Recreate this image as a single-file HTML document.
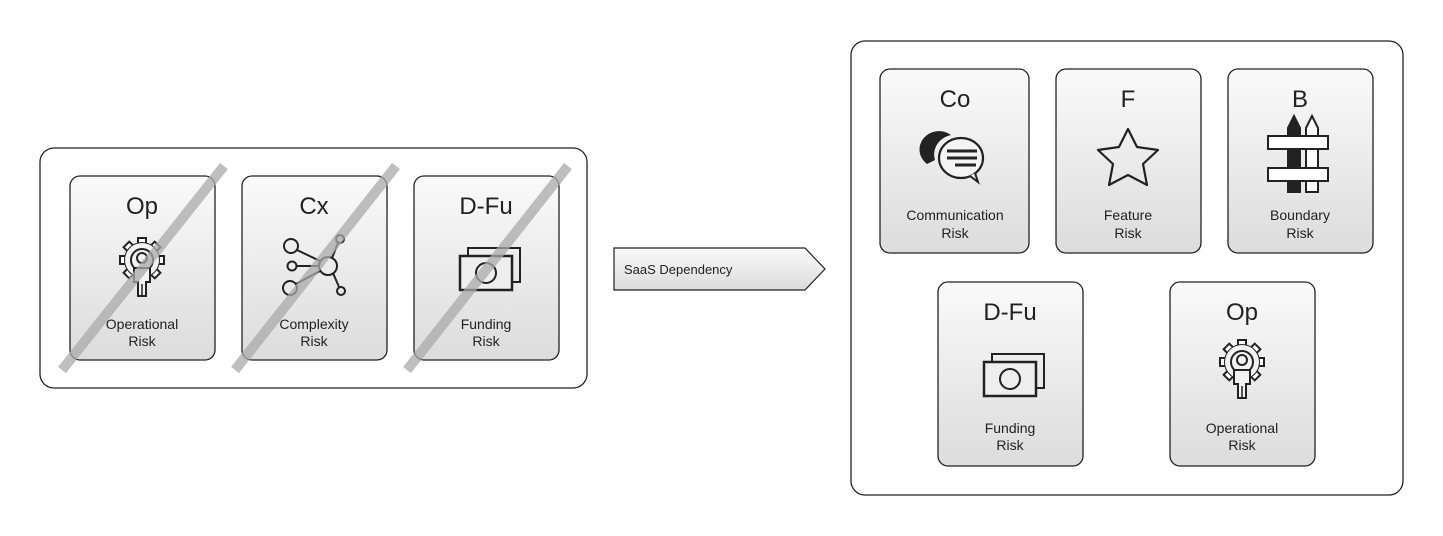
<!DOCTYPE html>
<html><head><meta charset="utf-8"><style>
html,body{margin:0;padding:0;background:#fff;width:1443px;height:536px;overflow:hidden}
text{font-family:"Liberation Sans",sans-serif;fill:#222}
</style></head><body>
<svg width="1443" height="536" viewBox="0 0 1443 536" xmlns="http://www.w3.org/2000/svg">
<defs>
<linearGradient id="g" x1="0" y1="0" x2="0" y2="1"><stop offset="0" stop-color="#fafafa"/><stop offset="1" stop-color="#dcdcdc"/></linearGradient>
<g id="gear">
 <g fill="#fff" stroke="#222" stroke-width="2">
  <rect x="-4" y="-26" width="8" height="8" transform="rotate(0 0 -4)"/>
  <rect x="-4" y="-26" width="8" height="8" transform="rotate(45 0 -4)"/>
  <rect x="-4" y="-26" width="8" height="8" transform="rotate(90 0 -4)"/>
  <rect x="-4" y="-26" width="8" height="8" transform="rotate(135 0 -4)"/>
  <rect x="-4" y="-26" width="8" height="8" transform="rotate(180 0 -4)"/>
  <rect x="-4" y="-26" width="8" height="8" transform="rotate(225 0 -4)"/>
  <rect x="-4" y="-26" width="8" height="8" transform="rotate(270 0 -4)"/>
  <rect x="-4" y="-26" width="8" height="8" transform="rotate(315 0 -4)"/>
 </g>
 <circle cx="0" cy="-4" r="17" fill="#f2f2f2" stroke="#222" stroke-width="2"/>
 <circle cx="0" cy="-4" r="17" fill="#f2f2f2" stroke="none"/>
 <circle cx="0" cy="-4" r="11" fill="none" stroke="#222" stroke-width="2"/>
 <circle cx="0" cy="-6" r="5" fill="none" stroke="#222" stroke-width="2"/>
 <path d="M-8,4 h16 v14 h-4 v14 h-8 v-14 h-4z" fill="#f2f2f2" stroke="#222" stroke-width="2"/>
 <line x1="0" y1="20" x2="0" y2="32" stroke="#222" stroke-width="1.5"/>
</g>
<g id="money">
 <rect x="-22" y="-20" width="52" height="34" fill="none" stroke="#222" stroke-width="2"/>
 <rect x="-30" y="-12" width="52" height="34" fill="#eee" stroke="#222" stroke-width="2.5"/>
 <circle cx="-4" cy="5" r="10" fill="none" stroke="#222" stroke-width="2"/>
</g>
</defs>
<rect x="40" y="148" width="547" height="240" rx="14" fill="#fff" stroke="#222" stroke-width="1.3"/>
<g stroke="#222" stroke-width="1.3" fill="url(#g)">
<rect x="70" y="176" width="145" height="184" rx="10"/>
<rect x="242" y="176" width="145" height="184" rx="10"/>
<rect x="414" y="176" width="145" height="184" rx="10"/>
</g>
<g font-size="24" text-anchor="middle">
<text x="142" y="214">Op</text><text x="314" y="214">Cx</text><text x="486" y="214">D-Fu</text></g>
<use href="#gear" x="142" y="264"/>
<g fill="none" stroke="#222" stroke-width="2">
<line x1="297" y1="250" x2="320" y2="261"/><line x1="297" y1="266" x2="319" y2="266"/><line x1="296" y1="284" x2="320" y2="271"/>
<line x1="338" y1="243" x2="332" y2="258"/><line x1="333" y1="273" x2="339" y2="287"/>
<circle cx="291" cy="246" r="7"/><circle cx="292" cy="266" r="4.5"/><circle cx="290" cy="288" r="7"/>
<circle cx="328" cy="266" r="9"/><circle cx="340" cy="239" r="4"/><circle cx="341" cy="291" r="4"/>
</g>
<use href="#money" x="490" y="268"/>
<g font-size="14" text-anchor="middle">
<text x="142" y="329">Operational</text><text x="142" y="346">Risk</text>
<text x="314" y="329">Complexity</text><text x="314" y="346">Risk</text>
<text x="486" y="329">Funding</text><text x="486" y="346">Risk</text></g>
<g stroke="#aaa" stroke-opacity="0.75" stroke-width="10">
<line x1="62" y1="370" x2="224" y2="166"/><line x1="235" y1="370" x2="396" y2="166"/><line x1="407" y1="370" x2="568" y2="166"/></g>
<path d="M614,248 H805 L825,269 L805,290 H614 Z" fill="url(#g)" stroke="#222" stroke-width="1.2"/>
<text x="624" y="274" font-size="13">SaaS Dependency</text>
<rect x="851" y="41" width="552" height="454" rx="14" fill="#fff" stroke="#222" stroke-width="1.3"/>
<g stroke="#222" stroke-width="1.3" fill="url(#g)">
<rect x="880" y="69" width="149" height="184" rx="10"/>
<rect x="1056" y="69" width="145" height="184" rx="10"/>
<rect x="1228" y="69" width="145" height="184" rx="10"/>
<rect x="938" y="282" width="145" height="184" rx="10"/>
<rect x="1170" y="282" width="145" height="184" rx="10"/>
</g>
<g font-size="24" text-anchor="middle">
<text x="955" y="107">Co</text><text x="1128" y="107">F</text><text x="1300" y="107">B</text>
<text x="1010" y="320">D-Fu</text><text x="1242" y="320">Op</text></g>
<path d="M927,164 a18,17 0 1 1 24,-29 a22,20 0 0 0 -16,25 z" fill="#222"/>
<ellipse cx="961" cy="158" rx="22" ry="20" fill="#f4f4f4" stroke="#222" stroke-width="2.2"/>
<path d="M970,176 l8,6 -3,-9" fill="#f4f4f4" stroke="#222" stroke-width="2"/>
<g stroke="#222" stroke-width="3"><line x1="947" y1="151" x2="977" y2="151"/><line x1="947" y1="158" x2="977" y2="158"/><line x1="955" y1="165" x2="976" y2="165"/></g>
<path d="M1128,129 L1137,147 L1158,150 L1143,164 L1147,185 L1128,175 L1109,185 L1113,164 L1098,150 L1119,147 Z" fill="none" stroke="#222" stroke-width="2.2" stroke-linejoin="round"/>
<g stroke="#222" stroke-width="2" fill="#fff">
<path d="M1288,128 l6,-12 6,12 v64 h-12z" fill="#222"/>
<path d="M1306,128 l6,-12 6,12 v64 h-12z"/>
<rect x="1268" y="136" width="60" height="13"/><rect x="1268" y="168" width="60" height="13"/>
</g>
<use href="#money" x="1014" y="374"/>
<use href="#gear" x="1242" y="366"/>
<g font-size="14" text-anchor="middle">
<text x="955" y="220">Communication</text><text x="955" y="238">Risk</text>
<text x="1128" y="220">Feature</text><text x="1128" y="238">Risk</text>
<text x="1300" y="220">Boundary</text><text x="1300" y="238">Risk</text>
<text x="1010" y="433">Funding</text><text x="1010" y="450">Risk</text>
<text x="1242" y="433">Operational</text><text x="1242" y="450">Risk</text></g>
</svg>
</body></html>
